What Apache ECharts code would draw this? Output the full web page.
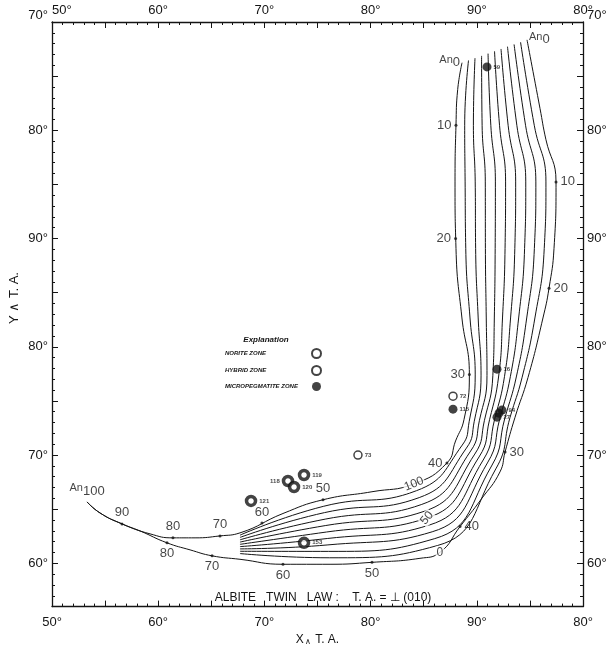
<!DOCTYPE html>
<html><head><meta charset="utf-8">
<script src="https://cdn.jsdelivr.net/npm/echarts@6/dist/echarts.min.js"></script>
<style>html,body{margin:0;padding:0;background:#fff}#c{width:614px;height:651px}</style>
</head><body><div id="c"></div>
<script>
// ---- axis ticks / labels ----
const xLabelVals = [50, 60, 70, 80, 90, 100];
const yLabelVals = [60, 70, 80, 90, 100, 110];
const xMajorVals = [50, 55, 60, 65, 70, 75, 80, 85, 90, 95, 100];
const yMajorVals = [60, 65, 70, 75, 80, 85, 90, 95, 100, 105, 110];
const xMinorVals = []; for (let v = 50; v <= 100; v++) xMinorVals.push(v);
const yMinorVals = []; for (let v = 56; v <= 110; v++) yMinorVals.push(v);

// ---- curves of the band (lines 100 ... 0), [X, Y] ----
const line100 = [[88.61,106.24],[88.20,103.76],[88.04,100.46],[87.95,95.23],[88.04,89.08],[88.60,82.66],[89.30,77.43],[88.80,73.30],[88.00,71.30],[87.19,69.27],[84.09,67.34],[80.13,66.61],[75.52,65.87],[71.75,64.60],[67.70,62.81],[65.82,62.53],[63.47,62.35],[61.39,62.35],[59.23,62.72],[56.59,63.64],[54.52,64.65],[53.30,65.67]];
const line90 = [[89.22,106.45],[88.86,100.46],[88.90,95.23],[88.96,89.08],[89.36,82.66],[89.85,77.40],[89.28,73.08],[88.63,70.92],[84.33,66.71],[75.59,65.27],[67.70,62.60]];
const line80 = [[89.83,106.66],[89.68,100.46],[89.85,95.23],[89.89,89.08],[90.13,82.66],[90.40,77.38],[89.76,73.12],[89.02,70.64],[84.58,66.07],[75.65,64.68],[67.70,62.39]];
const line70 = [[90.45,106.87],[90.50,100.46],[90.80,95.23],[90.81,89.08],[90.89,82.66],[90.96,77.35],[90.24,73.17],[89.42,70.37],[84.82,65.44],[75.72,64.08],[67.70,62.17]];
const line60 = [[91.06,107.08],[91.32,100.46],[91.75,95.23],[91.73,89.08],[91.65,82.66],[91.51,77.32],[90.72,73.21],[89.81,70.09],[85.07,64.81],[75.78,63.49],[67.70,61.96]];
const line50 = [[91.67,107.30],[92.14,100.46],[92.71,95.23],[92.66,89.08],[92.42,82.66],[92.06,77.30],[91.20,73.26],[90.21,69.82],[85.31,64.18],[75.85,62.89],[67.70,61.75]];
const line40 = [[92.28,107.51],[92.95,100.46],[93.66,95.23],[93.58,89.08],[93.18,82.66],[92.61,77.27],[91.68,73.31],[90.60,69.54],[85.55,63.54],[75.92,62.29],[67.70,61.54]];
const line30 = [[92.89,107.72],[93.77,100.46],[94.61,95.23],[94.50,89.08],[93.94,82.66],[93.16,77.24],[92.16,73.35],[91.00,69.27],[85.80,62.91],[75.98,61.70],[67.70,61.33]];
const line20 = [[93.51,107.93],[94.59,100.46],[95.56,95.23],[95.42,89.08],[94.70,82.66],[93.72,77.21],[92.64,73.40],[91.39,68.99],[86.04,62.28],[76.05,61.10],[67.70,61.11]];
const line10 = [[94.12,108.14],[95.41,100.46],[96.51,95.23],[96.35,89.08],[95.47,82.66],[94.27,77.19],[93.12,73.44],[91.79,68.72],[86.29,61.64],[76.11,60.51],[67.70,60.90]];
const line0 = [[94.73,108.35],[95.95,102.02],[96.50,99.17],[97.46,95.23],[97.27,89.08],[96.80,85.41],[96.23,82.66],[94.82,77.16],[93.60,73.49],[92.66,70.28],[92.18,68.44],[90.40,65.90],[88.42,63.39],[86.53,61.01],[84.65,60.46],[80.13,60.09],[76.18,59.91],[71.75,59.91],[67.70,60.37],[65.07,60.69],[63.00,61.24],[60.83,61.89],[58.29,62.99],[56.59,63.64],[54.52,64.65],[53.30,65.67]];

// ---- composition (An %) marks: [X, Y, text, label position] ----
const innerComp = [[88.04,100.46,'10','left'],[88.00,90.00,'20','left'],[89.30,77.43,'30','left'],[87.19,69.27,'40','left'],[75.52,65.87,'50','top'],[69.77,63.72,'60','top'],[65.82,62.53,'70','top'],[61.39,62.35,'80','top'],[56.59,63.64,'90','top']];
const outerComp = [[97.46,95.23,'10','right'],[96.80,85.41,'20','right'],[92.66,70.28,'30','right'],[88.42,63.39,'40','right'],[80.13,60.09,'50','bottom'],[71.75,59.91,'60','bottom'],[65.07,60.69,'70','bottom'],[60.83,61.89,'80','bottom']];
const anLabels = [[88.61,106.24,'0','left'],[94.73,108.35,'0','right'],[53.30,65.67,'100','top']];
const bandLabels = [[84.09,67.34,'100',22],[85.31,64.18,'50',50],[86.53,61.01,'0',0]];

// ---- observed points: [X, Y, specimen] ----
const norite = [[73.73,68.16,'119'],[72.22,67.60,'118'],[72.79,67.05,'120'],[68.74,65.76,'121'],[73.73,61.89,'153']];
const hybrid = [[78.81,70.00,'73'],[87.76,75.44,'72']];
const micro = [[90.96,105.85,'59'],[91.90,77.93,'16'],[87.76,74.24,'115'],[92.37,74.15,'94'],[92.09,73.87,''],[91.90,73.50,'27']];

const FONT = 'Liberation Sans, Arial, sans-serif';
const INK = '#141414';
const fold = v => (v <= 90 ? v : 180 - v) + '°';

function xAx(pos, minor) {
  return {
    type: 'value', position: pos, min: 50, max: 100,
    axisLine: { show: !minor, lineStyle: { color: INK, width: 1.3 } },
    splitLine: { show: false },
    axisTick: { show: true, inside: true, length: minor ? 3 : 6, customValues: minor ? xMinorVals : xMajorVals, lineStyle: { color: INK, width: 1 } },
    axisLabel: minor ? { show: false } : {
      show: true, customValues: xLabelVals, formatter: fold, color: INK, fontSize: 13,
      fontFamily: FONT, margin: pos === 'top' ? 5 : 9, alignMinLabel: pos === 'top' ? 'left' : 'center'
    }
  };
}
function yAx(pos, minor) {
  return {
    type: 'value', position: pos, min: 56, max: 110,
    axisLine: { show: !minor, lineStyle: { color: INK, width: 1.3 } },
    splitLine: { show: false },
    axisTick: { show: true, inside: true, length: minor ? 3 : 6, customValues: minor ? yMinorVals : yMajorVals, lineStyle: { color: INK, width: 1 } },
    axisLabel: minor ? { show: false } : {
      show: true, customValues: yLabelVals, formatter: fold, color: INK, fontSize: 13,
      fontFamily: FONT, margin: 4, verticalAlignMaxLabel: 'bottom'
    }
  };
}

const xAxes = [xAx('bottom', false), xAx('bottom', true), xAx('top', false), xAx('top', true)];
xAxes[0].name = '{a|X}{b|∧}{a| T. A.}';
xAxes[0].nameLocation = 'middle';
xAxes[0].nameGap = 17;
xAxes[0].nameTextStyle = { rich: { a: { fontSize: 12, fontFamily: FONT, color: INK }, b: { fontSize: 8, fontFamily: FONT, color: INK, padding: [5, 1, 0, 1] } } };
const yAxes = [yAx('left', false), yAx('left', true), yAx('right', false), yAx('right', true)];

function bandLine(data) {
  return { type: 'line', data: data, smooth: 0.5, showSymbol: false, silent: true,
    lineStyle: { color: INK, width: 1 }, z: 2, animation: false };
}

const compStyle = { color: INK, fontSize: 13, fontFamily: FONT, distance: 3 };
function compSeries(arr) {
  return {
    type: 'scatter', symbol: 'circle', symbolSize: 3, itemStyle: { color: INK }, z: 4, silent: true,
    data: arr.map(d => ({ value: [d[0], d[1]], label: { show: true, formatter: d[2], position: d[3] } })),
    label: compStyle
  };
}

function ptSeries(name, arr, style, size) {
  return {
    type: 'scatter', name: name, symbol: 'circle', symbolSize: size, z: 6, itemStyle: style,
    data: arr.map(d => ({ value: [d[0], d[1]], label: { show: true, formatter: d[2], position: d[2] === '118' ? 'left' : 'right', distance: 2 } })),
    label: { color: INK, fontSize: 6, fontFamily: FONT, fontWeight: 'bold' }
  };
}

const option = {
  backgroundColor: '#fff',
  animation: false,
  grid: { left: 52, right: 31, top: 22, bottom: 25 },
  xAxis: xAxes,
  yAxis: yAxes,
  title: [
    { text: 'ALBITE   TWIN   LAW :    T. A. = ⊥ (010)', left: 318, top: 587, textAlign: 'center',
      textStyle: { fontSize: 12, fontWeight: 'normal', fontFamily: FONT, color: INK } },
    { text: 'Explanation', left: 261, top: 331, textAlign: 'center',
      textStyle: { fontSize: 8, fontStyle: 'italic', fontWeight: 'bold', fontFamily: FONT, color: INK } }
  ],
  graphic: [
    { type: 'text', x: 8, y: 298, rotation: Math.PI / 2,
      style: { text: 'Y ∧ T. A.', font: '13px ' + FONT, fill: INK, align: 'center', verticalAlign: 'top' } }
  ],
  legend: {
    orient: 'vertical', left: 220, top: 343, align: 'right', itemGap: 6, itemWidth: 9, itemHeight: 9,
    selectedMode: false, icon: 'circle',
    formatter: name => '{t|' + name + '}',
    textStyle: { color: INK, rich: { t: { fontSize: 6, fontWeight: 'bold', fontStyle: 'italic', fontFamily: FONT, color: INK, width: 82, align: 'left' } } },
    data: ['NORITE ZONE', 'HYBRID ZONE', 'MICROPEGMATITE ZONE']
  },
  series: [
    bandLine(line100), bandLine(line90), bandLine(line80), bandLine(line70), bandLine(line60),
    bandLine(line50), bandLine(line40), bandLine(line30), bandLine(line20), bandLine(line10), bandLine(line0),
    compSeries(innerComp), compSeries(outerComp),
    {
      type: 'scatter', symbolSize: 0, z: 5, silent: true,
      data: anLabels.map(d => ({ value: [d[0], d[1]], label: { show: true, position: d[3], formatter: '{a|An}{b|' + d[2] + '}' } })),
      label: { distance: 2, rich: { a: { fontSize: 11, fontFamily: FONT, color: INK, padding: [0, 0, 6, 0] }, b: { fontSize: 13, fontFamily: FONT, color: INK } } }
    },
    {
      type: 'scatter', symbolSize: 0, z: 5, silent: true,
      data: bandLabels.map(d => ({ value: [d[0], d[1]], label: { show: true, position: 'inside', formatter: d[2], rotate: d[3] } })),
      label: { color: INK, fontSize: 12, fontFamily: FONT, backgroundColor: '#fff', padding: [0, 1] }
    },
    ptSeries('NORITE ZONE', norite, { color: '#fff', borderColor: INK, borderWidth: 3.5 }, 9),
    ptSeries('HYBRID ZONE', hybrid, { color: '#fff', borderColor: INK, borderWidth: 1.5 }, 8),
    ptSeries('MICROPEGMATITE ZONE', micro, { color: INK, borderColor: INK, borderWidth: 0 }, 9)
  ]
};

const chart = echarts.init(document.getElementById('c'), null, { renderer: 'canvas' });
chart.setOption(option);
</script>
</body></html>
